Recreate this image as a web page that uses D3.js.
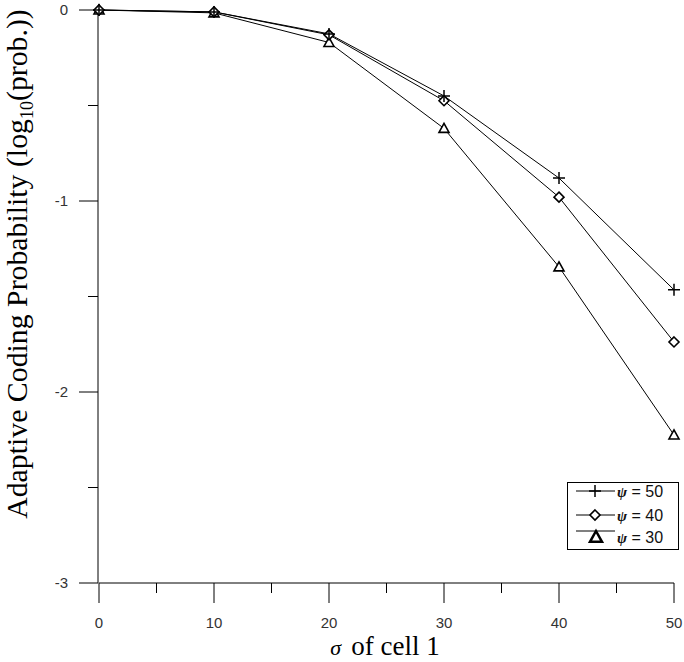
<!DOCTYPE html>
<html><head><meta charset="utf-8">
<script src="https://cdn.jsdelivr.net/npm/d3@7"></script>
<style>body{margin:0;background:#fff}svg{display:block}</style>
</head><body>
<svg id="c" width="684" height="662"></svg>
<script>
const sigma = [0, 10, 20, 30, 40, 50];
const psi50 = [0, -0.01, -0.125, -0.45, -0.88, -1.465];
const psi40 = [0, -0.01, -0.13, -0.475, -0.98, -1.738];
const psi30 = [0, -0.015, -0.17, -0.62, -1.345, -2.225];
const seriesNames = ["\u03C8 = 50", "\u03C8 = 40", "\u03C8 = 30"];
const xTicks = [0, 10, 20, 30, 40, 50];
const yTicks = [0, -1, -2, -3];

const svg = d3.select("#c");
const x = d3.scaleLinear().domain([0, 50]).range([99, 674]);
const y = d3.scaleLinear().domain([0, -3]).range([10, 583]);

// axes
const xAxis = svg.append("g").attr("transform", `translate(0,${y(-3)})`);
xAxis.append("line").attr("x1", x(0)).attr("x2", x(50)).attr("stroke", "#000");
xAxis.selectAll(".maj").data(xTicks).join("line")
  .attr("x1", d => x(d)).attr("x2", d => x(d)).attr("y1", 0).attr("y2", 20).attr("stroke", "#000");
xAxis.selectAll(".min").data(d3.range(5, 50, 10)).join("line")
  .attr("x1", d => x(d)).attr("x2", d => x(d)).attr("y1", 0).attr("y2", 10).attr("stroke", "#000");
xAxis.selectAll("text").data(xTicks).join("text")
  .attr("x", d => x(d)).attr("y", 45).attr("text-anchor", "middle")
  .attr("font-family", "Liberation Sans, Arial, sans-serif").attr("font-size", 15).attr("fill", "#333")
  .text(d => d);

const yAxis = svg.append("g").attr("transform", `translate(${x(0) - 1},0)`);
yAxis.append("line").attr("y1", y(0)).attr("y2", y(-3)).attr("stroke", "#000");
yAxis.selectAll(".maj").data(yTicks).join("line")
  .attr("y1", d => y(d)).attr("y2", d => y(d)).attr("x1", -19).attr("x2", 0).attr("stroke", "#000");
yAxis.selectAll(".min").data([-0.5, -1.5, -2.5]).join("line")
  .attr("y1", d => y(d)).attr("y2", d => y(d)).attr("x1", -10).attr("x2", 0).attr("stroke", "#000");
yAxis.selectAll("text").data(yTicks).join("text")
  .attr("x", -30).attr("y", d => y(d)).attr("dy", "0.35em").attr("text-anchor", "end")
  .attr("font-family", "Liberation Sans, Arial, sans-serif").attr("font-size", 15).attr("fill", "#333")
  .text(d => d);

// labels
const xl = svg.append("text").attr("x", 385).attr("y", 655).attr("text-anchor", "middle")
  .attr("font-family", "Liberation Serif, Times New Roman, serif").attr("font-size", 27);
xl.append("tspan").attr("font-style", "italic").attr("font-size", 22).text("\u03C3");
xl.append("tspan").attr("dx", 10).text("of cell 1");

const yl = svg.append("text").attr("transform", "translate(27,264) rotate(-90)").attr("text-anchor", "middle")
  .attr("font-family", "Liberation Serif, Times New Roman, serif").attr("font-size", 29.8);
yl.append("tspan").text("Adaptive Coding Probability (log");
yl.append("tspan").attr("font-size", 18).attr("dy", 6).text("10");
yl.append("tspan").attr("dy", -6).text("(prob.))");

// series
const line = d3.line().x((d, i) => x(sigma[i])).y(d => y(d));
const data = [psi50, psi40, psi30];
const g = svg.append("g");
data.forEach(s => {
  g.append("path").attr("d", line(s)).attr("fill", "none").attr("stroke", "#000").attr("stroke-width", 1);
});

function plus(sel, cx, cy, r) {
  sel.append("path").attr("d", `M${cx - r},${cy}H${cx + r}M${cx},${cy - r}V${cy + r}`)
    .attr("stroke", "#000").attr("stroke-width", 1.5).attr("fill", "none");
}
function diamond(sel, cx, cy, r) {
  sel.append("path").attr("d", `M${cx},${cy - r}L${cx + r},${cy}L${cx},${cy + r}L${cx - r},${cy}Z`)
    .attr("stroke", "#000").attr("stroke-width", 1.6).attr("fill", "#fff");
}
function tri(sel, cx, cy, r, sw) {
  sel.append("path").attr("d", `M${cx},${cy - r}L${cx + r},${cy + r * 0.8}L${cx - r},${cy + r * 0.8}Z`)
    .attr("stroke", "#000").attr("stroke-width", sw).attr("fill", "#fff");
}
psi30.forEach((v, i) => tri(g, x(sigma[i]), y(v), 5, 1.6));
psi40.forEach((v, i) => diamond(g, x(sigma[i]), y(v), 5));
psi50.forEach((v, i) => plus(g, x(sigma[i]), y(v), 6));

// legend
const lg = svg.append("g");
lg.append("rect").attr("x", 567.5).attr("y", 482.5).attr("width", 111).attr("height", 67)
  .attr("fill", "#fff").attr("stroke", "#000");
const rows = [491, 515, 531];
rows.forEach((ry, i) => {
  lg.append("line").attr("x1", 576).attr("x2", 615).attr("y1", ry).attr("y2", ry).attr("stroke", "#000");
  if (i === 0) plus(lg, 595, ry, 6);
  if (i === 1) diamond(lg, 595, ry, 5);
  if (i === 2) tri(lg, 596, 537, 6, 2.5);
  const t = lg.append("text").attr("x", 617).attr("y", [497, 521, 543][i])
    .attr("font-family", "Liberation Sans, Arial, sans-serif").attr("font-size", 16).attr("fill", "#111");
  t.append("tspan").attr("font-style", "italic").attr("font-weight", "bold").attr("font-size", 15).attr("font-family", "Liberation Serif, serif").text("\u03C8");
  t.append("tspan").text(seriesNames[i].slice(1));
});
</script>
</body></html>
